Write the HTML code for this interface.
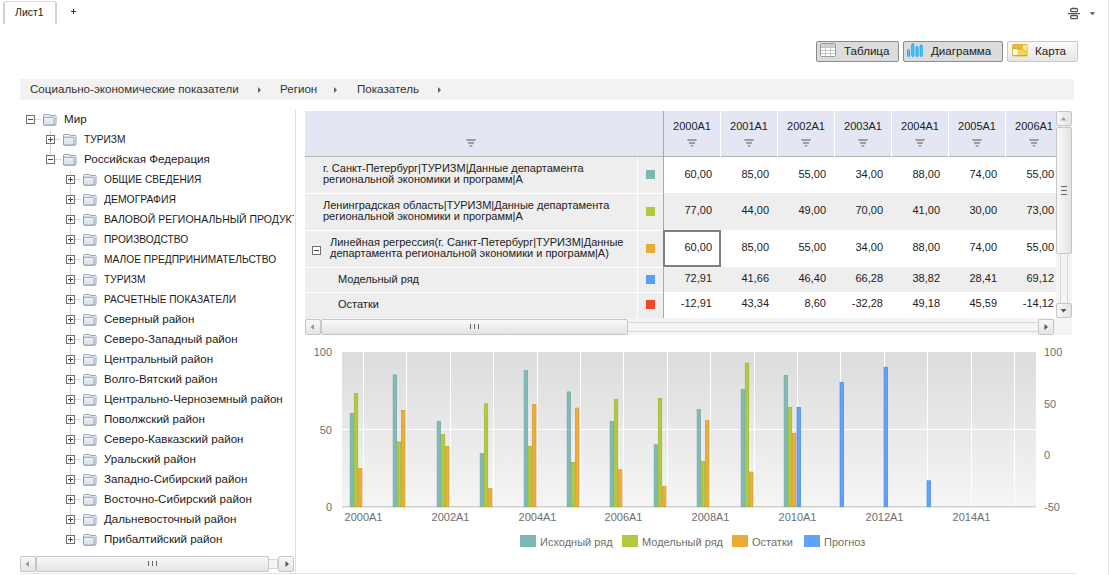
<!DOCTYPE html>
<html><head><meta charset="utf-8">
<style>
*{margin:0;padding:0;box-sizing:border-box}
html,body{width:1109px;height:575px;overflow:hidden;background:#fff}
body{position:relative;font-family:"Liberation Sans",sans-serif;color:#222}
.a{position:absolute}
.t{position:absolute;white-space:nowrap;line-height:1}
/* top */
#tab{left:3px;top:1px;width:54px;height:23px;border:1px solid #d8dadf;border-left:2px solid #d0d2d8;border-right:2px solid #d0d2d8;border-bottom:none;border-radius:3px 3px 0 0;background:#fff}
.btn{position:absolute;top:41px;height:21px;border:1px solid #8c8c8c;border-radius:2px;background:#dcdcdc;font-size:11.6px;color:#222}
.btn span{position:absolute;top:3px;white-space:nowrap;line-height:1}
#crumb{left:20px;top:79px;width:1054px;height:21px;background:#f2f2f2}
.ctext{font-size:11.6px;color:#333;top:83px}
.carr{position:absolute;top:86.5px;width:0;height:0;border-top:3px solid transparent;border-bottom:3px solid transparent;border-left:3.5px solid #606060}
/* tree */
.tx{position:absolute;font-size:11.6px;white-space:nowrap;line-height:1;color:#1a1a1a}
.exp{position:absolute;width:9px;height:9px;border:1px solid #707070;background:#fff}
.exp:before{content:"";position:absolute;left:1px;top:3px;width:5px;height:1px;background:#4a4a4a}
.exp.p:after{content:"";position:absolute;left:3px;top:1px;width:1px;height:5px;background:#4a4a4a}
.hl{position:absolute;height:1px;background:#d6d6d6}
.vl{position:absolute;width:1px;background:#d6d6d6}
.fold{position:absolute;width:14px;height:12px}
/* scrollbars */
.sb{position:absolute;border:1px solid #c3c7cc;border-radius:2px;background:linear-gradient(#f8f8f8,#e4e4e4)}
/* table */
.hdr{position:absolute;top:111px;height:45px;background:#e4e7f3}
.row{position:absolute;background:#eeeeee}
.num{position:absolute;font-size:11px;line-height:1;white-space:nowrap;text-align:right;color:#222}
.lbl{position:absolute;font-size:11px;line-height:10.5px;white-space:nowrap;color:#222}
.sw{position:absolute;width:9px;height:9px}
.yl{position:absolute;font-size:11px;color:#6e6e6e;line-height:1;white-space:nowrap}
</style></head><body>
<!-- right edge -->
<div class="a" style="left:1108px;top:0;width:1px;height:575px;background:#e2e2e2"></div>
<!-- bottom line -->
<div class="a" style="left:20px;top:573px;width:1057px;height:1px;background:#e6e6e6"></div>

<!-- tab -->
<div id="tab" class="a"></div>
<div class="t" style="left:15px;top:7px;font-size:10.5px;color:#222">Лист1</div>
<div class="a" style="left:71px;top:11px;width:5px;height:1px;background:#333"></div><div class="a" style="left:73px;top:9px;width:1px;height:5px;background:#333"></div>

<!-- top right icon -->
<svg class="a" style="left:1066px;top:6px" width="36" height="16" viewBox="0 0 36 16">
 <rect x="4.7" y="2.5" width="6.8" height="3.2" rx="1.2" fill="none" stroke="#555" stroke-width="1.3"/>
 <rect x="2" y="7" width="12" height="1.2" fill="#555"/>
 <rect x="4.7" y="9.5" width="6.8" height="3.2" rx="1.2" fill="none" stroke="#555" stroke-width="1.3"/>
 <path d="M23.8 6.2h5.2l-2.6 3z" fill="#555"/>
</svg>

<!-- buttons -->
<div class="btn" style="left:816px;width:83px">
 <svg class="a" style="left:3px;top:1px" width="18" height="16" viewBox="0 0 18 16">
  <rect x="0.5" y="0.5" width="15" height="13" rx="1" fill="#fff" stroke="#9a9a9a"/>
  <rect x="1" y="1" width="14" height="3.5" fill="#d2d2d2"/>
  <path d="M1 4.5h14M1 7.5h14M1 10.5h14M5.5 1v12.5M10.5 1v12.5" stroke="#c4c4c4" stroke-width="1"/>
 </svg>
 <span style="left:27px">Таблица</span>
</div>
<div class="btn" style="left:903px;width:100px">
 <svg class="a" style="left:3px;top:1px" width="18" height="16" viewBox="0 0 18 16">
  <rect x="0.6" y="6.5" width="2" height="7" rx="1" fill="#62d2fb" stroke="#0aa6ee"/>
  <rect x="4.8" y="0.8" width="2" height="12.7" rx="1" fill="#62d2fb" stroke="#0aa6ee"/>
  <rect x="9" y="3.5" width="2" height="10" rx="1" fill="#62d2fb" stroke="#0aa6ee"/>
  <rect x="13.2" y="2" width="2" height="11.5" rx="1" fill="#62d2fb" stroke="#0aa6ee"/>
 </svg>
 <span style="left:27px">Диаграмма</span>
</div>
<div class="btn" style="left:1007px;width:71px;border-color:#c8c8c8;background:linear-gradient(#fafafa,#e6e6e6)">
 <svg class="a" style="left:4px;top:2px" width="16" height="13" viewBox="0 0 16 13">
  <rect x="0.5" y="0.5" width="14.5" height="11.5" rx="1" fill="#eedb55" stroke="#e2b62a"/>
  <path d="M1 1H10.5L9.8 4.2L6.5 5.2L5 4.3H1Z" fill="#e8b84c"/>
  <path d="M10.5 1H14.5V7.8L11.5 5.5L9.8 4.2Z" fill="#f4eca0"/>
  <path d="M1 5.2H4.6L5.8 6V9.3L5 10.6V11.5H1Z" fill="#fff"/>
  <path d="M1 4.6H4.6L6.2 5.4L9.5 4.8L10.3 1.8L10.8 0.8M10 5L14.5 8.2" fill="none" stroke="#d9a31a" stroke-width="0.9"/>
  <path d="M1 11.5H15" stroke="#dba520" stroke-width="1"/>
 </svg>
 <span style="left:27px">Карта</span>
</div>

<!-- breadcrumb -->
<div id="crumb" class="a"></div>
<div class="t ctext" style="left:30px">Социально-экономические показатели</div>
<div class="carr" style="left:258px"></div>
<div class="t ctext" style="left:280px">Регион</div>
<div class="carr" style="left:334px"></div>
<div class="t ctext" style="left:357px">Показатель</div>
<div class="carr" style="left:438px"></div>

<!-- TREE -->
<div style="position:absolute;left:0;top:0;width:294px;height:555px;overflow:hidden">
<div class="exp m" style="left:26px;top:115px"></div>
<div class="hl" style="left:35px;top:119px;width:6px"></div>
<svg class="fold" style="left:43px;top:114px" width="15" height="13" viewBox="0 0 15 13"><defs><linearGradient id="fg0" x1="0" y1="0" x2="0" y2="1"><stop offset="0" stop-color="#eef2f8"/><stop offset="1" stop-color="#d8e0ea"/></linearGradient></defs><path d="M1.5 0.5h5l1 1h5.5a1 1 0 0 1 1 1v8.5a1 1 0 0 1 -1 1h-11.5a1 1 0 0 1 -1 -1v-9.5a1 1 0 0 1 1 -1z" fill="#f2f5f9" stroke="#8a99ad"/><path d="M1.5 3.5h9.5a1 1 0 0 1 1 1v7.5h-10.5a1 1 0 0 1 -1 -1v-6.5a1 1 0 0 1 1 -1z" fill="url(#fg0)" stroke="#8a99ad"/></svg>
<div class="tx" style="left:64px;top:113px">Мир</div>
<div class="exp p" style="left:46px;top:135px"></div>
<div class="hl" style="left:55px;top:139px;width:6px"></div>
<svg class="fold" style="left:63px;top:134px" width="15" height="13" viewBox="0 0 15 13"><defs><linearGradient id="fg1" x1="0" y1="0" x2="0" y2="1"><stop offset="0" stop-color="#eef2f8"/><stop offset="1" stop-color="#d8e0ea"/></linearGradient></defs><path d="M1.5 0.5h5l1 1h5.5a1 1 0 0 1 1 1v8.5a1 1 0 0 1 -1 1h-11.5a1 1 0 0 1 -1 -1v-9.5a1 1 0 0 1 1 -1z" fill="#f2f5f9" stroke="#8a99ad"/><path d="M1.5 3.5h9.5a1 1 0 0 1 1 1v7.5h-10.5a1 1 0 0 1 -1 -1v-6.5a1 1 0 0 1 1 -1z" fill="url(#fg1)" stroke="#8a99ad"/></svg>
<div class="tx" style="left:84px;top:133px;transform:scaleX(0.88);transform-origin:0 0">ТУРИЗМ</div>
<div class="exp m" style="left:46px;top:155px"></div>
<div class="hl" style="left:55px;top:159px;width:6px"></div>
<svg class="fold" style="left:63px;top:154px" width="15" height="13" viewBox="0 0 15 13"><defs><linearGradient id="fg2" x1="0" y1="0" x2="0" y2="1"><stop offset="0" stop-color="#eef2f8"/><stop offset="1" stop-color="#d8e0ea"/></linearGradient></defs><path d="M1.5 0.5h5l1 1h5.5a1 1 0 0 1 1 1v8.5a1 1 0 0 1 -1 1h-11.5a1 1 0 0 1 -1 -1v-9.5a1 1 0 0 1 1 -1z" fill="#f2f5f9" stroke="#8a99ad"/><path d="M1.5 3.5h9.5a1 1 0 0 1 1 1v7.5h-10.5a1 1 0 0 1 -1 -1v-6.5a1 1 0 0 1 1 -1z" fill="url(#fg2)" stroke="#8a99ad"/></svg>
<div class="tx" style="left:84px;top:153px">Российская Федерация</div>
<div class="exp p" style="left:66px;top:175px"></div>
<div class="hl" style="left:75px;top:179px;width:6px"></div>
<svg class="fold" style="left:83px;top:174px" width="15" height="13" viewBox="0 0 15 13"><defs><linearGradient id="fg3" x1="0" y1="0" x2="0" y2="1"><stop offset="0" stop-color="#eef2f8"/><stop offset="1" stop-color="#d8e0ea"/></linearGradient></defs><path d="M1.5 0.5h5l1 1h5.5a1 1 0 0 1 1 1v8.5a1 1 0 0 1 -1 1h-11.5a1 1 0 0 1 -1 -1v-9.5a1 1 0 0 1 1 -1z" fill="#f2f5f9" stroke="#8a99ad"/><path d="M1.5 3.5h9.5a1 1 0 0 1 1 1v7.5h-10.5a1 1 0 0 1 -1 -1v-6.5a1 1 0 0 1 1 -1z" fill="url(#fg3)" stroke="#8a99ad"/></svg>
<div class="tx" style="left:104px;top:173px;transform:scaleX(0.875);transform-origin:0 0">ОБЩИЕ СВЕДЕНИЯ</div>
<div class="exp p" style="left:66px;top:195px"></div>
<div class="hl" style="left:75px;top:199px;width:6px"></div>
<svg class="fold" style="left:83px;top:194px" width="15" height="13" viewBox="0 0 15 13"><defs><linearGradient id="fg4" x1="0" y1="0" x2="0" y2="1"><stop offset="0" stop-color="#eef2f8"/><stop offset="1" stop-color="#d8e0ea"/></linearGradient></defs><path d="M1.5 0.5h5l1 1h5.5a1 1 0 0 1 1 1v8.5a1 1 0 0 1 -1 1h-11.5a1 1 0 0 1 -1 -1v-9.5a1 1 0 0 1 1 -1z" fill="#f2f5f9" stroke="#8a99ad"/><path d="M1.5 3.5h9.5a1 1 0 0 1 1 1v7.5h-10.5a1 1 0 0 1 -1 -1v-6.5a1 1 0 0 1 1 -1z" fill="url(#fg4)" stroke="#8a99ad"/></svg>
<div class="tx" style="left:104px;top:193px;transform:scaleX(0.895);transform-origin:0 0">ДЕМОГРАФИЯ</div>
<div class="exp p" style="left:66px;top:215px"></div>
<div class="hl" style="left:75px;top:219px;width:6px"></div>
<svg class="fold" style="left:83px;top:214px" width="15" height="13" viewBox="0 0 15 13"><defs><linearGradient id="fg5" x1="0" y1="0" x2="0" y2="1"><stop offset="0" stop-color="#eef2f8"/><stop offset="1" stop-color="#d8e0ea"/></linearGradient></defs><path d="M1.5 0.5h5l1 1h5.5a1 1 0 0 1 1 1v8.5a1 1 0 0 1 -1 1h-11.5a1 1 0 0 1 -1 -1v-9.5a1 1 0 0 1 1 -1z" fill="#f2f5f9" stroke="#8a99ad"/><path d="M1.5 3.5h9.5a1 1 0 0 1 1 1v7.5h-10.5a1 1 0 0 1 -1 -1v-6.5a1 1 0 0 1 1 -1z" fill="url(#fg5)" stroke="#8a99ad"/></svg>
<div class="tx" style="left:104px;top:213px;transform:scaleX(0.905);transform-origin:0 0">ВАЛОВОЙ РЕГИОНАЛЬНЫЙ ПРОДУКТ</div>
<div class="exp p" style="left:66px;top:235px"></div>
<div class="hl" style="left:75px;top:239px;width:6px"></div>
<svg class="fold" style="left:83px;top:234px" width="15" height="13" viewBox="0 0 15 13"><defs><linearGradient id="fg6" x1="0" y1="0" x2="0" y2="1"><stop offset="0" stop-color="#eef2f8"/><stop offset="1" stop-color="#d8e0ea"/></linearGradient></defs><path d="M1.5 0.5h5l1 1h5.5a1 1 0 0 1 1 1v8.5a1 1 0 0 1 -1 1h-11.5a1 1 0 0 1 -1 -1v-9.5a1 1 0 0 1 1 -1z" fill="#f2f5f9" stroke="#8a99ad"/><path d="M1.5 3.5h9.5a1 1 0 0 1 1 1v7.5h-10.5a1 1 0 0 1 -1 -1v-6.5a1 1 0 0 1 1 -1z" fill="url(#fg6)" stroke="#8a99ad"/></svg>
<div class="tx" style="left:104px;top:233px;transform:scaleX(0.88);transform-origin:0 0">ПРОИЗВОДСТВО</div>
<div class="exp p" style="left:66px;top:255px"></div>
<div class="hl" style="left:75px;top:259px;width:6px"></div>
<svg class="fold" style="left:83px;top:254px" width="15" height="13" viewBox="0 0 15 13"><defs><linearGradient id="fg7" x1="0" y1="0" x2="0" y2="1"><stop offset="0" stop-color="#eef2f8"/><stop offset="1" stop-color="#d8e0ea"/></linearGradient></defs><path d="M1.5 0.5h5l1 1h5.5a1 1 0 0 1 1 1v8.5a1 1 0 0 1 -1 1h-11.5a1 1 0 0 1 -1 -1v-9.5a1 1 0 0 1 1 -1z" fill="#f2f5f9" stroke="#8a99ad"/><path d="M1.5 3.5h9.5a1 1 0 0 1 1 1v7.5h-10.5a1 1 0 0 1 -1 -1v-6.5a1 1 0 0 1 1 -1z" fill="url(#fg7)" stroke="#8a99ad"/></svg>
<div class="tx" style="left:104px;top:253px;transform:scaleX(0.88);transform-origin:0 0">МАЛОЕ ПРЕДПРИНИМАТЕЛЬСТВО</div>
<div class="exp p" style="left:66px;top:275px"></div>
<div class="hl" style="left:75px;top:279px;width:6px"></div>
<svg class="fold" style="left:83px;top:274px" width="15" height="13" viewBox="0 0 15 13"><defs><linearGradient id="fg8" x1="0" y1="0" x2="0" y2="1"><stop offset="0" stop-color="#eef2f8"/><stop offset="1" stop-color="#d8e0ea"/></linearGradient></defs><path d="M1.5 0.5h5l1 1h5.5a1 1 0 0 1 1 1v8.5a1 1 0 0 1 -1 1h-11.5a1 1 0 0 1 -1 -1v-9.5a1 1 0 0 1 1 -1z" fill="#f2f5f9" stroke="#8a99ad"/><path d="M1.5 3.5h9.5a1 1 0 0 1 1 1v7.5h-10.5a1 1 0 0 1 -1 -1v-6.5a1 1 0 0 1 1 -1z" fill="url(#fg8)" stroke="#8a99ad"/></svg>
<div class="tx" style="left:104px;top:273px;transform:scaleX(0.88);transform-origin:0 0">ТУРИЗМ</div>
<div class="exp p" style="left:66px;top:295px"></div>
<div class="hl" style="left:75px;top:299px;width:6px"></div>
<svg class="fold" style="left:83px;top:294px" width="15" height="13" viewBox="0 0 15 13"><defs><linearGradient id="fg9" x1="0" y1="0" x2="0" y2="1"><stop offset="0" stop-color="#eef2f8"/><stop offset="1" stop-color="#d8e0ea"/></linearGradient></defs><path d="M1.5 0.5h5l1 1h5.5a1 1 0 0 1 1 1v8.5a1 1 0 0 1 -1 1h-11.5a1 1 0 0 1 -1 -1v-9.5a1 1 0 0 1 1 -1z" fill="#f2f5f9" stroke="#8a99ad"/><path d="M1.5 3.5h9.5a1 1 0 0 1 1 1v7.5h-10.5a1 1 0 0 1 -1 -1v-6.5a1 1 0 0 1 1 -1z" fill="url(#fg9)" stroke="#8a99ad"/></svg>
<div class="tx" style="left:104px;top:293px;transform:scaleX(0.875);transform-origin:0 0">РАСЧЕТНЫЕ ПОКАЗАТЕЛИ</div>
<div class="exp p" style="left:66px;top:315px"></div>
<div class="hl" style="left:75px;top:319px;width:6px"></div>
<svg class="fold" style="left:83px;top:314px" width="15" height="13" viewBox="0 0 15 13"><defs><linearGradient id="fg10" x1="0" y1="0" x2="0" y2="1"><stop offset="0" stop-color="#eef2f8"/><stop offset="1" stop-color="#d8e0ea"/></linearGradient></defs><path d="M1.5 0.5h5l1 1h5.5a1 1 0 0 1 1 1v8.5a1 1 0 0 1 -1 1h-11.5a1 1 0 0 1 -1 -1v-9.5a1 1 0 0 1 1 -1z" fill="#f2f5f9" stroke="#8a99ad"/><path d="M1.5 3.5h9.5a1 1 0 0 1 1 1v7.5h-10.5a1 1 0 0 1 -1 -1v-6.5a1 1 0 0 1 1 -1z" fill="url(#fg10)" stroke="#8a99ad"/></svg>
<div class="tx" style="left:104px;top:313px">Северный район</div>
<div class="exp p" style="left:66px;top:335px"></div>
<div class="hl" style="left:75px;top:339px;width:6px"></div>
<svg class="fold" style="left:83px;top:334px" width="15" height="13" viewBox="0 0 15 13"><defs><linearGradient id="fg11" x1="0" y1="0" x2="0" y2="1"><stop offset="0" stop-color="#eef2f8"/><stop offset="1" stop-color="#d8e0ea"/></linearGradient></defs><path d="M1.5 0.5h5l1 1h5.5a1 1 0 0 1 1 1v8.5a1 1 0 0 1 -1 1h-11.5a1 1 0 0 1 -1 -1v-9.5a1 1 0 0 1 1 -1z" fill="#f2f5f9" stroke="#8a99ad"/><path d="M1.5 3.5h9.5a1 1 0 0 1 1 1v7.5h-10.5a1 1 0 0 1 -1 -1v-6.5a1 1 0 0 1 1 -1z" fill="url(#fg11)" stroke="#8a99ad"/></svg>
<div class="tx" style="left:104px;top:333px">Северо-Западный район</div>
<div class="exp p" style="left:66px;top:355px"></div>
<div class="hl" style="left:75px;top:359px;width:6px"></div>
<svg class="fold" style="left:83px;top:354px" width="15" height="13" viewBox="0 0 15 13"><defs><linearGradient id="fg12" x1="0" y1="0" x2="0" y2="1"><stop offset="0" stop-color="#eef2f8"/><stop offset="1" stop-color="#d8e0ea"/></linearGradient></defs><path d="M1.5 0.5h5l1 1h5.5a1 1 0 0 1 1 1v8.5a1 1 0 0 1 -1 1h-11.5a1 1 0 0 1 -1 -1v-9.5a1 1 0 0 1 1 -1z" fill="#f2f5f9" stroke="#8a99ad"/><path d="M1.5 3.5h9.5a1 1 0 0 1 1 1v7.5h-10.5a1 1 0 0 1 -1 -1v-6.5a1 1 0 0 1 1 -1z" fill="url(#fg12)" stroke="#8a99ad"/></svg>
<div class="tx" style="left:104px;top:353px">Центральный район</div>
<div class="exp p" style="left:66px;top:375px"></div>
<div class="hl" style="left:75px;top:379px;width:6px"></div>
<svg class="fold" style="left:83px;top:374px" width="15" height="13" viewBox="0 0 15 13"><defs><linearGradient id="fg13" x1="0" y1="0" x2="0" y2="1"><stop offset="0" stop-color="#eef2f8"/><stop offset="1" stop-color="#d8e0ea"/></linearGradient></defs><path d="M1.5 0.5h5l1 1h5.5a1 1 0 0 1 1 1v8.5a1 1 0 0 1 -1 1h-11.5a1 1 0 0 1 -1 -1v-9.5a1 1 0 0 1 1 -1z" fill="#f2f5f9" stroke="#8a99ad"/><path d="M1.5 3.5h9.5a1 1 0 0 1 1 1v7.5h-10.5a1 1 0 0 1 -1 -1v-6.5a1 1 0 0 1 1 -1z" fill="url(#fg13)" stroke="#8a99ad"/></svg>
<div class="tx" style="left:104px;top:373px">Волго-Вятский район</div>
<div class="exp p" style="left:66px;top:395px"></div>
<div class="hl" style="left:75px;top:399px;width:6px"></div>
<svg class="fold" style="left:83px;top:394px" width="15" height="13" viewBox="0 0 15 13"><defs><linearGradient id="fg14" x1="0" y1="0" x2="0" y2="1"><stop offset="0" stop-color="#eef2f8"/><stop offset="1" stop-color="#d8e0ea"/></linearGradient></defs><path d="M1.5 0.5h5l1 1h5.5a1 1 0 0 1 1 1v8.5a1 1 0 0 1 -1 1h-11.5a1 1 0 0 1 -1 -1v-9.5a1 1 0 0 1 1 -1z" fill="#f2f5f9" stroke="#8a99ad"/><path d="M1.5 3.5h9.5a1 1 0 0 1 1 1v7.5h-10.5a1 1 0 0 1 -1 -1v-6.5a1 1 0 0 1 1 -1z" fill="url(#fg14)" stroke="#8a99ad"/></svg>
<div class="tx" style="left:104px;top:393px">Центрально-Черноземный район</div>
<div class="exp p" style="left:66px;top:415px"></div>
<div class="hl" style="left:75px;top:419px;width:6px"></div>
<svg class="fold" style="left:83px;top:414px" width="15" height="13" viewBox="0 0 15 13"><defs><linearGradient id="fg15" x1="0" y1="0" x2="0" y2="1"><stop offset="0" stop-color="#eef2f8"/><stop offset="1" stop-color="#d8e0ea"/></linearGradient></defs><path d="M1.5 0.5h5l1 1h5.5a1 1 0 0 1 1 1v8.5a1 1 0 0 1 -1 1h-11.5a1 1 0 0 1 -1 -1v-9.5a1 1 0 0 1 1 -1z" fill="#f2f5f9" stroke="#8a99ad"/><path d="M1.5 3.5h9.5a1 1 0 0 1 1 1v7.5h-10.5a1 1 0 0 1 -1 -1v-6.5a1 1 0 0 1 1 -1z" fill="url(#fg15)" stroke="#8a99ad"/></svg>
<div class="tx" style="left:104px;top:413px">Поволжский район</div>
<div class="exp p" style="left:66px;top:435px"></div>
<div class="hl" style="left:75px;top:439px;width:6px"></div>
<svg class="fold" style="left:83px;top:434px" width="15" height="13" viewBox="0 0 15 13"><defs><linearGradient id="fg16" x1="0" y1="0" x2="0" y2="1"><stop offset="0" stop-color="#eef2f8"/><stop offset="1" stop-color="#d8e0ea"/></linearGradient></defs><path d="M1.5 0.5h5l1 1h5.5a1 1 0 0 1 1 1v8.5a1 1 0 0 1 -1 1h-11.5a1 1 0 0 1 -1 -1v-9.5a1 1 0 0 1 1 -1z" fill="#f2f5f9" stroke="#8a99ad"/><path d="M1.5 3.5h9.5a1 1 0 0 1 1 1v7.5h-10.5a1 1 0 0 1 -1 -1v-6.5a1 1 0 0 1 1 -1z" fill="url(#fg16)" stroke="#8a99ad"/></svg>
<div class="tx" style="left:104px;top:433px">Северо-Кавказский район</div>
<div class="exp p" style="left:66px;top:455px"></div>
<div class="hl" style="left:75px;top:459px;width:6px"></div>
<svg class="fold" style="left:83px;top:454px" width="15" height="13" viewBox="0 0 15 13"><defs><linearGradient id="fg17" x1="0" y1="0" x2="0" y2="1"><stop offset="0" stop-color="#eef2f8"/><stop offset="1" stop-color="#d8e0ea"/></linearGradient></defs><path d="M1.5 0.5h5l1 1h5.5a1 1 0 0 1 1 1v8.5a1 1 0 0 1 -1 1h-11.5a1 1 0 0 1 -1 -1v-9.5a1 1 0 0 1 1 -1z" fill="#f2f5f9" stroke="#8a99ad"/><path d="M1.5 3.5h9.5a1 1 0 0 1 1 1v7.5h-10.5a1 1 0 0 1 -1 -1v-6.5a1 1 0 0 1 1 -1z" fill="url(#fg17)" stroke="#8a99ad"/></svg>
<div class="tx" style="left:104px;top:453px">Уральский район</div>
<div class="exp p" style="left:66px;top:475px"></div>
<div class="hl" style="left:75px;top:479px;width:6px"></div>
<svg class="fold" style="left:83px;top:474px" width="15" height="13" viewBox="0 0 15 13"><defs><linearGradient id="fg18" x1="0" y1="0" x2="0" y2="1"><stop offset="0" stop-color="#eef2f8"/><stop offset="1" stop-color="#d8e0ea"/></linearGradient></defs><path d="M1.5 0.5h5l1 1h5.5a1 1 0 0 1 1 1v8.5a1 1 0 0 1 -1 1h-11.5a1 1 0 0 1 -1 -1v-9.5a1 1 0 0 1 1 -1z" fill="#f2f5f9" stroke="#8a99ad"/><path d="M1.5 3.5h9.5a1 1 0 0 1 1 1v7.5h-10.5a1 1 0 0 1 -1 -1v-6.5a1 1 0 0 1 1 -1z" fill="url(#fg18)" stroke="#8a99ad"/></svg>
<div class="tx" style="left:104px;top:473px">Западно-Сибирский район</div>
<div class="exp p" style="left:66px;top:495px"></div>
<div class="hl" style="left:75px;top:499px;width:6px"></div>
<svg class="fold" style="left:83px;top:494px" width="15" height="13" viewBox="0 0 15 13"><defs><linearGradient id="fg19" x1="0" y1="0" x2="0" y2="1"><stop offset="0" stop-color="#eef2f8"/><stop offset="1" stop-color="#d8e0ea"/></linearGradient></defs><path d="M1.5 0.5h5l1 1h5.5a1 1 0 0 1 1 1v8.5a1 1 0 0 1 -1 1h-11.5a1 1 0 0 1 -1 -1v-9.5a1 1 0 0 1 1 -1z" fill="#f2f5f9" stroke="#8a99ad"/><path d="M1.5 3.5h9.5a1 1 0 0 1 1 1v7.5h-10.5a1 1 0 0 1 -1 -1v-6.5a1 1 0 0 1 1 -1z" fill="url(#fg19)" stroke="#8a99ad"/></svg>
<div class="tx" style="left:104px;top:493px">Восточно-Сибирский район</div>
<div class="exp p" style="left:66px;top:515px"></div>
<div class="hl" style="left:75px;top:519px;width:6px"></div>
<svg class="fold" style="left:83px;top:514px" width="15" height="13" viewBox="0 0 15 13"><defs><linearGradient id="fg20" x1="0" y1="0" x2="0" y2="1"><stop offset="0" stop-color="#eef2f8"/><stop offset="1" stop-color="#d8e0ea"/></linearGradient></defs><path d="M1.5 0.5h5l1 1h5.5a1 1 0 0 1 1 1v8.5a1 1 0 0 1 -1 1h-11.5a1 1 0 0 1 -1 -1v-9.5a1 1 0 0 1 1 -1z" fill="#f2f5f9" stroke="#8a99ad"/><path d="M1.5 3.5h9.5a1 1 0 0 1 1 1v7.5h-10.5a1 1 0 0 1 -1 -1v-6.5a1 1 0 0 1 1 -1z" fill="url(#fg20)" stroke="#8a99ad"/></svg>
<div class="tx" style="left:104px;top:513px">Дальневосточный район</div>
<div class="exp p" style="left:66px;top:535px"></div>
<div class="hl" style="left:75px;top:539px;width:6px"></div>
<svg class="fold" style="left:83px;top:534px" width="15" height="13" viewBox="0 0 15 13"><defs><linearGradient id="fg21" x1="0" y1="0" x2="0" y2="1"><stop offset="0" stop-color="#eef2f8"/><stop offset="1" stop-color="#d8e0ea"/></linearGradient></defs><path d="M1.5 0.5h5l1 1h5.5a1 1 0 0 1 1 1v8.5a1 1 0 0 1 -1 1h-11.5a1 1 0 0 1 -1 -1v-9.5a1 1 0 0 1 1 -1z" fill="#f2f5f9" stroke="#8a99ad"/><path d="M1.5 3.5h9.5a1 1 0 0 1 1 1v7.5h-10.5a1 1 0 0 1 -1 -1v-6.5a1 1 0 0 1 1 -1z" fill="url(#fg21)" stroke="#8a99ad"/></svg>
<div class="tx" style="left:104px;top:533px">Прибалтийский район</div>
<div class="vl" style="left:50px;top:130px;height:5px"></div>
<div class="vl" style="left:50px;top:144px;height:11px"></div>
<div class="vl" style="left:70px;top:170px;height:5px"></div>
<div class="vl" style="left:70px;top:184px;height:11px"></div>
<div class="vl" style="left:70px;top:204px;height:11px"></div>
<div class="vl" style="left:70px;top:224px;height:11px"></div>
<div class="vl" style="left:70px;top:244px;height:11px"></div>
<div class="vl" style="left:70px;top:264px;height:11px"></div>
<div class="vl" style="left:70px;top:284px;height:11px"></div>
<div class="vl" style="left:70px;top:304px;height:11px"></div>
<div class="vl" style="left:70px;top:324px;height:11px"></div>
<div class="vl" style="left:70px;top:344px;height:11px"></div>
<div class="vl" style="left:70px;top:364px;height:11px"></div>
<div class="vl" style="left:70px;top:384px;height:11px"></div>
<div class="vl" style="left:70px;top:404px;height:11px"></div>
<div class="vl" style="left:70px;top:424px;height:11px"></div>
<div class="vl" style="left:70px;top:444px;height:11px"></div>
<div class="vl" style="left:70px;top:464px;height:11px"></div>
<div class="vl" style="left:70px;top:484px;height:11px"></div>
<div class="vl" style="left:70px;top:504px;height:11px"></div>
<div class="vl" style="left:70px;top:524px;height:11px"></div>
</div>

<!-- separator -->
<div class="a" style="left:295px;top:110px;width:1px;height:462px;background:#e0e0e0"></div>

<!-- tree scrollbar -->
<div class="a" style="left:20px;top:556px;width:274px;height:16px;background:#fff"></div>
<div class="a" style="left:36px;top:559px;width:242px;height:10px;border:1px solid #d5d8dc;background:#f4f4f4"></div>
<div class="sb" style="left:20px;top:556px;width:16px;height:16px"></div>
<div class="sb" style="left:36px;top:556px;width:233px;height:16px"></div>
<div class="sb" style="left:278px;top:556px;width:16px;height:16px"></div>

<!-- TABLE -->
<div class="a" style="left:305px;top:111px;width:767px;height:224px;background:#fff;overflow:hidden">
</div>
<div class="hdr" style="left:305px;width:751px"></div>
<div class="a" style="left:305px;top:156px;width:751px;height:1px;background:#b4b4b4"></div>
<div class="a" style="left:720px;top:111px;width:1px;height:46px;background:#fff"></div>
<div class="num" style="left:664px;top:121px;width:56px;text-align:center">2000A1</div>
<svg class="a" style="left:687px;top:139px" width="10" height="9" viewBox="0 0 10 9"><path d="M0 0h10l-0.8 2h-8.4zM1.8 3h6.4l-0.5 1.9h-5.4zM3 6h4l-2 2.2z" fill="#9a9ca2"/></svg>
<div class="a" style="left:777px;top:111px;width:1px;height:46px;background:#fff"></div>
<div class="num" style="left:721px;top:121px;width:56px;text-align:center">2001A1</div>
<svg class="a" style="left:744px;top:139px" width="10" height="9" viewBox="0 0 10 9"><path d="M0 0h10l-0.8 2h-8.4zM1.8 3h6.4l-0.5 1.9h-5.4zM3 6h4l-2 2.2z" fill="#9a9ca2"/></svg>
<div class="a" style="left:834px;top:111px;width:1px;height:46px;background:#fff"></div>
<div class="num" style="left:778px;top:121px;width:56px;text-align:center">2002A1</div>
<svg class="a" style="left:801px;top:139px" width="10" height="9" viewBox="0 0 10 9"><path d="M0 0h10l-0.8 2h-8.4zM1.8 3h6.4l-0.5 1.9h-5.4zM3 6h4l-2 2.2z" fill="#9a9ca2"/></svg>
<div class="a" style="left:891px;top:111px;width:1px;height:46px;background:#fff"></div>
<div class="num" style="left:835px;top:121px;width:56px;text-align:center">2003A1</div>
<svg class="a" style="left:858px;top:139px" width="10" height="9" viewBox="0 0 10 9"><path d="M0 0h10l-0.8 2h-8.4zM1.8 3h6.4l-0.5 1.9h-5.4zM3 6h4l-2 2.2z" fill="#9a9ca2"/></svg>
<div class="a" style="left:948px;top:111px;width:1px;height:46px;background:#fff"></div>
<div class="num" style="left:892px;top:121px;width:56px;text-align:center">2004A1</div>
<svg class="a" style="left:915px;top:139px" width="10" height="9" viewBox="0 0 10 9"><path d="M0 0h10l-0.8 2h-8.4zM1.8 3h6.4l-0.5 1.9h-5.4zM3 6h4l-2 2.2z" fill="#9a9ca2"/></svg>
<div class="a" style="left:1005px;top:111px;width:1px;height:46px;background:#fff"></div>
<div class="num" style="left:949px;top:121px;width:56px;text-align:center">2005A1</div>
<svg class="a" style="left:972px;top:139px" width="10" height="9" viewBox="0 0 10 9"><path d="M0 0h10l-0.8 2h-8.4zM1.8 3h6.4l-0.5 1.9h-5.4zM3 6h4l-2 2.2z" fill="#9a9ca2"/></svg>
<div class="a" style="left:1062px;top:111px;width:1px;height:46px;background:#fff"></div>
<div class="num" style="left:1006px;top:121px;width:56px;text-align:center">2006A1</div>
<svg class="a" style="left:1029px;top:139px" width="10" height="9" viewBox="0 0 10 9"><path d="M0 0h10l-0.8 2h-8.4zM1.8 3h6.4l-0.5 1.9h-5.4zM3 6h4l-2 2.2z" fill="#9a9ca2"/></svg>
<svg class="a" style="left:466px;top:139px" width="10" height="9" viewBox="0 0 10 9"><path d="M0 0h10l-0.8 2h-8.4zM1.8 3h6.4l-0.5 1.9h-5.4zM3 6h4l-2 2.2z" fill="#9a9ca2"/></svg>
<div class="row" style="left:305px;top:157px;width:332px;height:36px"></div>
<div class="row" style="left:638px;top:157px;width:25px;height:36px"></div>
<div class="a" style="left:664px;top:157px;width:392px;height:36px;background:#fff"></div>
<div class="sw" style="left:646px;top:170px;background:#7cb8b2"></div>
<div class="num" style="left:664px;top:169px;width:48px">60,00</div>
<div class="num" style="left:721px;top:169px;width:48px">85,00</div>
<div class="num" style="left:778px;top:169px;width:48px">55,00</div>
<div class="num" style="left:835px;top:169px;width:48px">34,00</div>
<div class="num" style="left:892px;top:169px;width:48px">88,00</div>
<div class="num" style="left:949px;top:169px;width:48px">74,00</div>
<div class="num" style="left:1006px;top:169px;width:48px">55,00</div>
<div class="row" style="left:305px;top:194px;width:332px;height:36px"></div>
<div class="row" style="left:638px;top:194px;width:25px;height:36px"></div>
<div class="a" style="left:664px;top:193px;width:392px;height:37px;background:#eeeeee"></div>
<div class="sw" style="left:646px;top:207px;background:#b0c83a"></div>
<div class="num" style="left:664px;top:205px;width:48px">77,00</div>
<div class="num" style="left:721px;top:205px;width:48px">44,00</div>
<div class="num" style="left:778px;top:205px;width:48px">49,00</div>
<div class="num" style="left:835px;top:205px;width:48px">70,00</div>
<div class="num" style="left:892px;top:205px;width:48px">41,00</div>
<div class="num" style="left:949px;top:205px;width:48px">30,00</div>
<div class="num" style="left:1006px;top:205px;width:48px">73,00</div>
<div class="row" style="left:305px;top:231px;width:332px;height:36px"></div>
<div class="row" style="left:638px;top:231px;width:25px;height:36px"></div>
<div class="a" style="left:664px;top:230px;width:392px;height:37px;background:#fff"></div>
<div class="sw" style="left:646px;top:244px;background:#eaaa35"></div>
<div class="num" style="left:664px;top:242px;width:48px">60,00</div>
<div class="num" style="left:721px;top:242px;width:48px">85,00</div>
<div class="num" style="left:778px;top:242px;width:48px">55,00</div>
<div class="num" style="left:835px;top:242px;width:48px">34,00</div>
<div class="num" style="left:892px;top:242px;width:48px">88,00</div>
<div class="num" style="left:949px;top:242px;width:48px">74,00</div>
<div class="num" style="left:1006px;top:242px;width:48px">55,00</div>
<div class="row" style="left:305px;top:268px;width:332px;height:24px"></div>
<div class="row" style="left:638px;top:268px;width:25px;height:24px"></div>
<div class="a" style="left:664px;top:267px;width:392px;height:25px;background:#eeeeee"></div>
<div class="sw" style="left:646px;top:275px;background:#5b9ff5"></div>
<div class="num" style="left:664px;top:273px;width:48px">72,91</div>
<div class="num" style="left:721px;top:273px;width:48px">41,66</div>
<div class="num" style="left:778px;top:273px;width:48px">46,40</div>
<div class="num" style="left:835px;top:273px;width:48px">66,28</div>
<div class="num" style="left:892px;top:273px;width:48px">38,82</div>
<div class="num" style="left:949px;top:273px;width:48px">28,41</div>
<div class="num" style="left:1006px;top:273px;width:48px">69,12</div>
<div class="row" style="left:305px;top:293px;width:332px;height:25px"></div>
<div class="row" style="left:638px;top:293px;width:25px;height:25px"></div>
<div class="a" style="left:664px;top:292px;width:392px;height:26px;background:#fff"></div>
<div class="sw" style="left:646px;top:300px;background:#f4452a"></div>
<div class="num" style="left:664px;top:298px;width:48px">-12,91</div>
<div class="num" style="left:721px;top:298px;width:48px">43,34</div>
<div class="num" style="left:778px;top:298px;width:48px">8,60</div>
<div class="num" style="left:835px;top:298px;width:48px">-32,28</div>
<div class="num" style="left:892px;top:298px;width:48px">49,18</div>
<div class="num" style="left:949px;top:298px;width:48px">45,59</div>
<div class="num" style="left:1006px;top:298px;width:48px">-14,12</div>
<div class="a" style="left:663px;top:111px;width:1px;height:208px;background:#a8a8a8"></div>
<div class="lbl" style="left:323px;top:163px">г. Санкт-Петербург|ТУРИЗМ|Данные департамента<br>региональной экономики и программ|А</div>
<div class="lbl" style="left:323px;top:200px">Ленинградская область|ТУРИЗМ|Данные департамента<br>региональной экономики и программ|А</div>
<div class="lbl" style="left:330px;top:237px">Линейная регрессия(г. Санкт-Петербург|ТУРИЗМ|Данные<br>департамента региональной экономики и программ|А)</div>
<div class="exp" style="left:312px;top:246px"></div>
<div class="num" style="left:338px;top:274px;text-align:left">Модельный ряд</div>
<div class="num" style="left:338px;top:299px;text-align:left">Остатки</div>
<div class="a" style="left:663px;top:230px;width:58px;height:37px;border:2px solid #7b8088"></div>
<div class="a" style="left:305px;top:318px;width:767px;height:17px;background:#f4f4f4"></div>
<div class="a" style="left:320px;top:322px;width:720px;height:10px;border:1px solid #d5d8dc;border-left:none;background:#f4f4f4"></div>
<div class="sb" style="left:305px;top:319px;width:16px;height:16px"></div>
<div class="sb" style="left:321px;top:319px;width:307px;height:16px"></div>
<div class="sb" style="left:1038px;top:319px;width:16px;height:16px"></div>
<div class="a" style="left:1056px;top:111px;width:16px;height:207px;background:#f4f4f4"></div>
<div class="a" style="left:1060px;top:125px;width:8px;height:180px;border:1px solid #d5d8dc;background:#f4f4f4"></div>
<div class="sb" style="left:1056px;top:111px;width:16px;height:15px;background:linear-gradient(90deg,#f8f8f8,#e4e4e4)"></div>
<div class="sb" style="left:1056px;top:127px;width:16px;height:127px;background:linear-gradient(90deg,#f8f8f8,#e4e4e4)"></div>
<div class="sb" style="left:1056px;top:303px;width:16px;height:15px;background:linear-gradient(90deg,#f8f8f8,#e4e4e4)"></div>

<!-- CHART -->
<svg class="a" style="left:0;top:0" width="1109" height="575" viewBox="0 0 1109 575">
<defs><linearGradient id="pg" x1="0" y1="0" x2="0" y2="1"><stop offset="0" stop-color="#dcdcdc"/><stop offset="1" stop-color="#f5f5f5"/></linearGradient></defs>
<rect x="342" y="352" width="694" height="155" fill="url(#pg)"/>
<rect x="363.00" y="352" width="1" height="155" fill="#fff"/>
<rect x="406.00" y="352" width="1" height="155" fill="#fff"/>
<rect x="450.00" y="352" width="1" height="155" fill="#fff"/>
<rect x="493.00" y="352" width="1" height="155" fill="#fff"/>
<rect x="537.00" y="352" width="1" height="155" fill="#fff"/>
<rect x="580.00" y="352" width="1" height="155" fill="#fff"/>
<rect x="623.00" y="352" width="1" height="155" fill="#fff"/>
<rect x="667.00" y="352" width="1" height="155" fill="#fff"/>
<rect x="710.00" y="352" width="1" height="155" fill="#fff"/>
<rect x="754.00" y="352" width="1" height="155" fill="#fff"/>
<rect x="797.00" y="352" width="1" height="155" fill="#fff"/>
<rect x="840.00" y="352" width="1" height="155" fill="#fff"/>
<rect x="884.00" y="352" width="1" height="155" fill="#fff"/>
<rect x="927.00" y="352" width="1" height="155" fill="#fff"/>
<rect x="971.00" y="352" width="1" height="155" fill="#fff"/>
<rect x="1014.00" y="352" width="1" height="155" fill="#fff"/>
<rect x="342" y="429" width="694" height="1" fill="#fff"/>
<rect x="342" y="506" width="694" height="1.5" fill="#d0d0d0"/>
<rect x="350.15" y="413.55" width="3.45" height="93.15" fill="#80bbb5" stroke="#6aa9a3" stroke-width="0.7"/>
<rect x="354.30" y="393.60" width="3.45" height="113.10" fill="#b3ca3e" stroke="#9cb52c" stroke-width="0.7"/>
<rect x="358.45" y="468.52" width="3.45" height="38.18" fill="#eeac38" stroke="#d9982a" stroke-width="0.7"/>
<rect x="393.15" y="374.93" width="3.45" height="131.78" fill="#80bbb5" stroke="#6aa9a3" stroke-width="0.7"/>
<rect x="397.30" y="441.89" width="3.45" height="64.81" fill="#b3ca3e" stroke="#9cb52c" stroke-width="0.7"/>
<rect x="401.45" y="410.40" width="3.45" height="96.30" fill="#eeac38" stroke="#d9982a" stroke-width="0.7"/>
<rect x="437.15" y="421.27" width="3.45" height="85.43" fill="#80bbb5" stroke="#6aa9a3" stroke-width="0.7"/>
<rect x="441.30" y="434.56" width="3.45" height="72.14" fill="#b3ca3e" stroke="#9cb52c" stroke-width="0.7"/>
<rect x="445.45" y="446.30" width="3.45" height="60.40" fill="#eeac38" stroke="#d9982a" stroke-width="0.7"/>
<rect x="480.15" y="453.72" width="3.45" height="52.98" fill="#80bbb5" stroke="#6aa9a3" stroke-width="0.7"/>
<rect x="484.30" y="403.85" width="3.45" height="102.85" fill="#b3ca3e" stroke="#9cb52c" stroke-width="0.7"/>
<rect x="488.45" y="488.54" width="3.45" height="18.16" fill="#eeac38" stroke="#d9982a" stroke-width="0.7"/>
<rect x="524.15" y="370.29" width="3.45" height="136.41" fill="#80bbb5" stroke="#6aa9a3" stroke-width="0.7"/>
<rect x="528.30" y="446.27" width="3.45" height="60.43" fill="#b3ca3e" stroke="#9cb52c" stroke-width="0.7"/>
<rect x="532.45" y="404.36" width="3.45" height="102.34" fill="#eeac38" stroke="#d9982a" stroke-width="0.7"/>
<rect x="567.15" y="391.92" width="3.45" height="114.78" fill="#80bbb5" stroke="#6aa9a3" stroke-width="0.7"/>
<rect x="571.30" y="462.36" width="3.45" height="44.34" fill="#b3ca3e" stroke="#9cb52c" stroke-width="0.7"/>
<rect x="575.45" y="408.07" width="3.45" height="98.63" fill="#eeac38" stroke="#d9982a" stroke-width="0.7"/>
<rect x="610.15" y="421.27" width="3.45" height="85.43" fill="#80bbb5" stroke="#6aa9a3" stroke-width="0.7"/>
<rect x="614.30" y="399.46" width="3.45" height="107.24" fill="#b3ca3e" stroke="#9cb52c" stroke-width="0.7"/>
<rect x="618.45" y="469.77" width="3.45" height="36.93" fill="#eeac38" stroke="#d9982a" stroke-width="0.7"/>
<rect x="654.15" y="444.76" width="3.45" height="61.94" fill="#80bbb5" stroke="#6aa9a3" stroke-width="0.7"/>
<rect x="658.30" y="398.41" width="3.45" height="108.29" fill="#b3ca3e" stroke="#9cb52c" stroke-width="0.7"/>
<rect x="662.45" y="486.29" width="3.45" height="20.41" fill="#eeac38" stroke="#d9982a" stroke-width="0.7"/>
<rect x="697.15" y="409.53" width="3.45" height="97.17" fill="#80bbb5" stroke="#6aa9a3" stroke-width="0.7"/>
<rect x="701.30" y="461.44" width="3.45" height="45.26" fill="#b3ca3e" stroke="#9cb52c" stroke-width="0.7"/>
<rect x="705.45" y="420.57" width="3.45" height="86.13" fill="#eeac38" stroke="#d9982a" stroke-width="0.7"/>
<rect x="741.15" y="389.60" width="3.45" height="117.10" fill="#80bbb5" stroke="#6aa9a3" stroke-width="0.7"/>
<rect x="745.30" y="363.03" width="3.45" height="143.67" fill="#b3ca3e" stroke="#9cb52c" stroke-width="0.7"/>
<rect x="749.45" y="472.03" width="3.45" height="34.67" fill="#eeac38" stroke="#d9982a" stroke-width="0.7"/>
<rect x="784.15" y="375.54" width="3.45" height="131.16" fill="#80bbb5" stroke="#6aa9a3" stroke-width="0.7"/>
<rect x="788.30" y="407.52" width="3.45" height="99.18" fill="#b3ca3e" stroke="#9cb52c" stroke-width="0.7"/>
<rect x="792.45" y="433.28" width="3.45" height="73.42" fill="#eeac38" stroke="#d9982a" stroke-width="0.7"/>
<rect x="797.05" y="407.52" width="3.50" height="99.18" fill="#62a3f8" stroke="#3f88ee" stroke-width="0.7"/>
<rect x="840.05" y="382.50" width="3.50" height="124.20" fill="#62a3f8" stroke="#3f88ee" stroke-width="0.7"/>
<rect x="884.05" y="367.20" width="3.50" height="139.50" fill="#62a3f8" stroke="#3f88ee" stroke-width="0.7"/>
<rect x="927.05" y="480.76" width="3.50" height="25.94" fill="#62a3f8" stroke="#3f88ee" stroke-width="0.7"/>
</svg>
<div class="yl" style="right:777px;top:347.0px;text-align:right">100</div>
<div class="yl" style="right:777px;top:424.5px;text-align:right">50</div>
<div class="yl" style="right:777px;top:502.0px;text-align:right">0</div>
<div class="yl" style="left:1044px;top:347.0px">100</div>
<div class="yl" style="left:1044px;top:398.7px">50</div>
<div class="yl" style="left:1044px;top:450.3px">0</div>
<div class="yl" style="left:1044px;top:502.0px">-50</div>
<div class="yl" style="left:363.5px;top:512px;width:60px;margin-left:-30px;text-align:center">2000A1</div>
<div class="yl" style="left:450.5px;top:512px;width:60px;margin-left:-30px;text-align:center">2002A1</div>
<div class="yl" style="left:537.5px;top:512px;width:60px;margin-left:-30px;text-align:center">2004A1</div>
<div class="yl" style="left:623.5px;top:512px;width:60px;margin-left:-30px;text-align:center">2006A1</div>
<div class="yl" style="left:710.5px;top:512px;width:60px;margin-left:-30px;text-align:center">2008A1</div>
<div class="yl" style="left:797.5px;top:512px;width:60px;margin-left:-30px;text-align:center">2010A1</div>
<div class="yl" style="left:884.5px;top:512px;width:60px;margin-left:-30px;text-align:center">2012A1</div>
<div class="yl" style="left:971.5px;top:512px;width:60px;margin-left:-30px;text-align:center">2014A1</div>
<div class="a" style="left:520px;top:535px;width:16px;height:12px;background:#7db9b4"></div>
<div class="yl" style="left:540px;top:537px">Исходный ряд</div>
<div class="a" style="left:622px;top:535px;width:16px;height:12px;background:#b1c93c"></div>
<div class="yl" style="left:642px;top:537px">Модельный ряд</div>
<div class="a" style="left:732px;top:535px;width:16px;height:12px;background:#ecab34"></div>
<div class="yl" style="left:752px;top:537px">Остатки</div>
<div class="a" style="left:804px;top:535px;width:16px;height:12px;background:#5fa2f7"></div>
<div class="yl" style="left:824px;top:537px">Прогноз</div><svg class="a" style="left:0;top:0;pointer-events:none" width="1109" height="575">
<path d="M25.5 564.0l3.5 -3v6z" fill="#9a9a9a"/>
<path d="M289.0 564.0l-3.5 -3v6z" fill="#555"/>
<path d="M310.5 327.0l3.5 -3v6z" fill="#9a9a9a"/>
<path d="M1048.0 327.0l-3.5 -3v6z" fill="#555"/>
<path d="M1060.5 120.5l3 -3.5l3 3.5z" fill="#a0a0a0"/>
<path d="M1060.5 309.0l3 3.5l3 -3.5z" fill="#555"/>
<rect x="148.0" y="561" width="1" height="5" fill="#666"/>
<rect x="152.0" y="561" width="1" height="5" fill="#666"/>
<rect x="156.0" y="561" width="1" height="5" fill="#666"/>
<rect x="470.0" y="324" width="1" height="5" fill="#666"/>
<rect x="474.0" y="324" width="1" height="5" fill="#666"/>
<rect x="478.0" y="324" width="1" height="5" fill="#666"/>
<rect x="1061" y="186.0" width="6" height="1" fill="#666"/>
<rect x="1061" y="190.0" width="6" height="1" fill="#666"/>
<rect x="1061" y="194.0" width="6" height="1" fill="#666"/>
</svg>

</body></html>
